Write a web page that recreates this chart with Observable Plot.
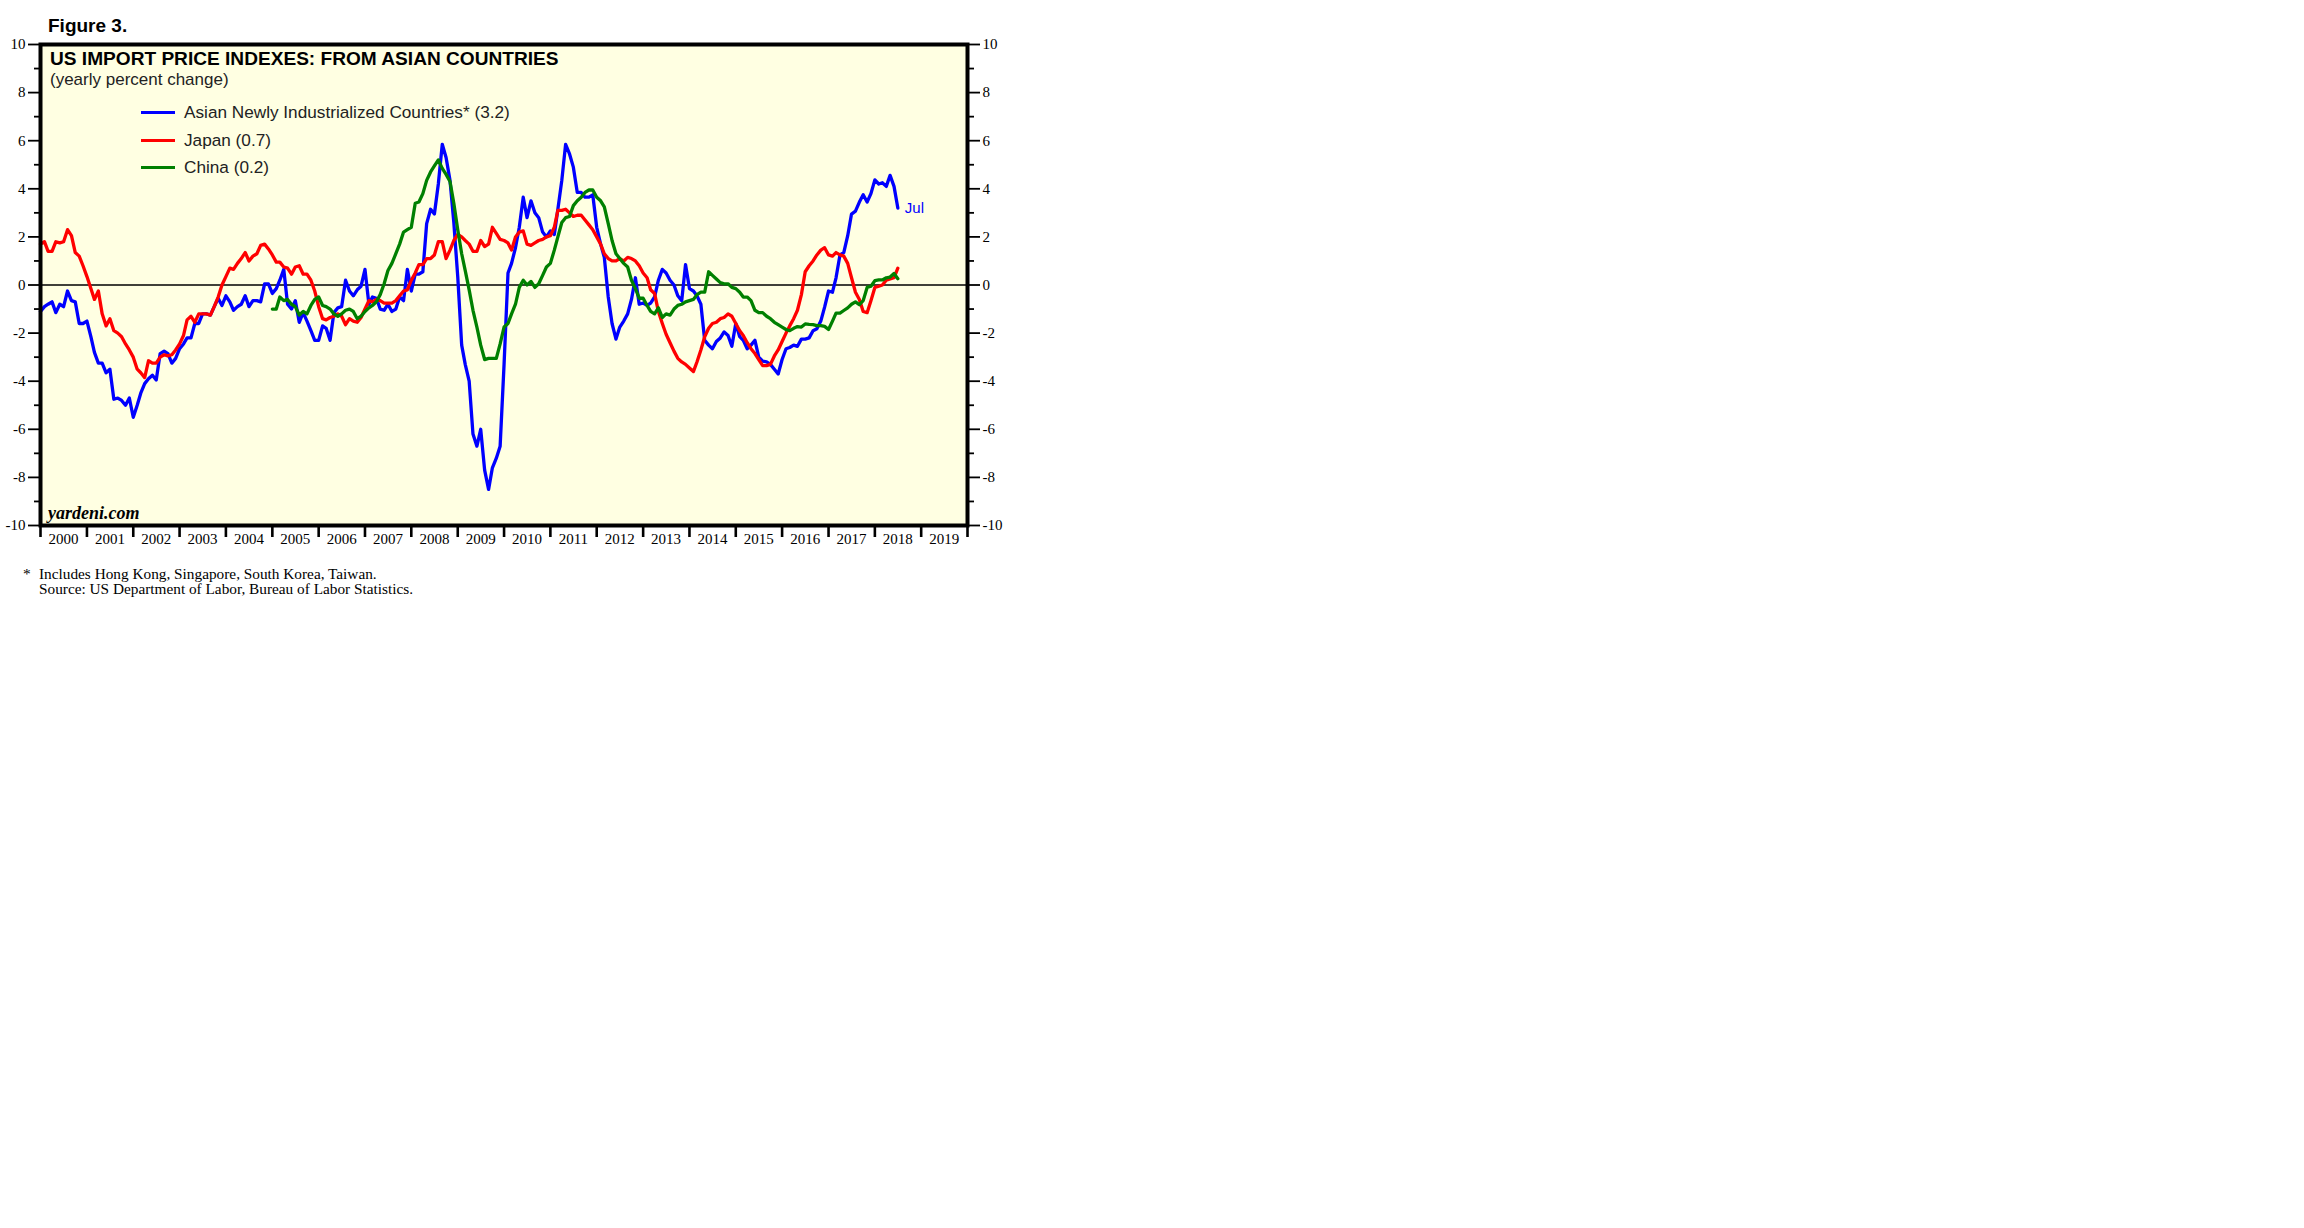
<!DOCTYPE html>
<html><head><meta charset="utf-8">
<script src="https://cdn.jsdelivr.net/npm/d3@7"></script>
<script src="https://cdn.jsdelivr.net/npm/@observablehq/plot@0.6"></script>
<style>
body{margin:0;background:#fff;}
#wrap{position:relative;width:2304px;height:1228px;overflow:hidden;}
.abs{position:absolute;white-space:nowrap;line-height:1;}
.sans{font-family:"Liberation Sans",Arial,sans-serif;}
.serif{font-family:"Liberation Serif","Times New Roman",serif;}
.sw{position:absolute;height:0;border-top:3.5px solid;width:34px;}
</style></head><body><div id="wrap"></div>
<script>
// ---- data (yearly % change, monthly, Jan 2000 .. Jul 2018) ----
const firstYear = 2000;
const nics = [
 -1.1,-0.9,-0.8,-0.7,-1.15,-0.8,-0.9,-0.25,-0.65,-0.7,-1.6,-1.6,
 -1.5,-2.15,-2.8,-3.25,-3.25,-3.65,-3.5,-4.75,-4.7,-4.8,-5.0,-4.7,
 -5.5,-5.0,-4.5,-4.1,-3.9,-3.75,-3.95,-2.85,-2.75,-2.85,-3.25,-3.05,
 -2.65,-2.45,-2.2,-2.2,-1.6,-1.6,-1.2,-1.2,-1.25,-0.9,-0.55,-0.85,
 -0.45,-0.7,-1.05,-0.9,-0.8,-0.45,-0.9,-0.65,-0.65,-0.7,0.05,0.05,
 -0.35,-0.15,0.2,0.65,-0.8,-1.0,-0.65,-1.55,-1.15,-1.5,-1.9,-2.3,
 -2.3,-1.7,-1.8,-2.3,-1.15,-0.95,-0.9,0.2,-0.25,-0.45,-0.2,-0.05,
 0.65,-0.8,-0.5,-0.55,-1.0,-1.05,-0.8,-1.1,-1.0,-0.5,-0.65,0.65,
 -0.25,0.45,0.45,0.55,2.55,3.15,2.95,4.2,5.85,5.3,4.35,2.6,
 0.35,-2.5,-3.3,-4.0,-6.2,-6.7,-6.0,-7.7,-8.5,-7.6,-7.2,-6.7,
 -3.3,0.5,0.9,1.55,2.4,3.65,2.8,3.5,3.0,2.8,2.2,2.0,
 2.25,2.1,3.15,4.35,5.85,5.45,4.9,3.85,3.85,3.65,3.65,3.75,
 2.4,1.7,1.15,-0.5,-1.6,-2.25,-1.75,-1.5,-1.2,-0.6,0.3,-0.8,
 -0.75,-0.85,-0.75,-0.5,0.2,0.65,0.5,0.2,0.0,-0.45,-0.65,0.85,
 -0.15,-0.25,-0.45,-0.8,-2.3,-2.5,-2.65,-2.35,-2.2,-1.95,-2.1,-2.55,
 -1.6,-2.15,-2.3,-2.65,-2.5,-2.3,-3.0,-3.17,-3.2,-3.3,-3.5,-3.7,
 -3.1,-2.65,-2.6,-2.5,-2.55,-2.25,-2.25,-2.2,-1.9,-1.82,-1.5,-0.92,
 -0.25,-0.3,0.3,1.25,1.35,2.05,2.95,3.07,3.45,3.75,3.45,3.8,
 4.37,4.2,4.25,4.1,4.56,4.1,3.2
];
const japan = [
 1.7,1.8,1.4,1.4,1.8,1.75,1.8,2.3,2.05,1.35,1.2,0.8,
 0.35,-0.15,-0.6,-0.25,-1.2,-1.7,-1.4,-1.9,-2.0,-2.15,-2.45,-2.7,
 -3.0,-3.5,-3.65,-3.85,-3.15,-3.25,-3.25,-3.0,-2.9,-2.95,-2.9,-2.7,
 -2.45,-2.1,-1.45,-1.3,-1.55,-1.2,-1.2,-1.2,-1.25,-0.9,-0.5,0.0,
 0.35,0.7,0.65,0.9,1.1,1.35,1.0,1.2,1.3,1.65,1.7,1.5,
 1.25,0.95,0.95,0.75,0.7,0.45,0.75,0.8,0.45,0.45,0.2,-0.25,
 -0.9,-1.4,-1.45,-1.35,-1.3,-1.2,-1.3,-1.65,-1.4,-1.5,-1.55,-1.35,
 -1.0,-0.65,-0.7,-0.6,-0.65,-0.75,-0.75,-0.75,-0.65,-0.45,-0.25,-0.2,
 0.2,0.5,0.85,0.85,1.1,1.1,1.25,1.8,1.8,1.1,1.45,1.85,
 2.1,2.0,1.85,1.7,1.4,1.4,1.85,1.6,1.7,2.4,2.15,1.9,
 1.85,1.75,1.45,2.0,2.2,2.25,1.7,1.65,1.75,1.85,1.9,2.0,
 2.05,2.4,3.1,3.1,3.15,3.0,2.85,2.9,2.9,2.7,2.5,2.3,
 2.0,1.7,1.3,1.1,1.0,1.0,1.1,1.0,1.15,1.1,1.0,0.8,
 0.5,0.3,-0.2,-0.35,-1.1,-1.6,-2.05,-2.4,-2.75,-3.05,-3.2,-3.3,
 -3.45,-3.6,-3.2,-2.7,-2.15,-1.8,-1.6,-1.55,-1.4,-1.35,-1.2,-1.3,
 -1.6,-1.9,-2.1,-2.4,-2.65,-2.85,-3.1,-3.35,-3.35,-3.3,-2.95,-2.7,
 -2.35,-2.0,-1.7,-1.4,-1.05,-0.4,0.55,0.8,1.0,1.25,1.45,1.55,
 1.25,1.2,1.35,1.25,1.2,0.9,0.3,-0.3,-0.6,-1.1,-1.15,-0.65,
 -0.1,-0.05,0.0,0.2,0.25,0.3,0.7
];
const chinaFirstMonth = 60; // Jan 2005
const china = [
 -1.0,-1.0,-0.5,-0.65,-0.6,-0.8,-0.9,-1.25,-1.1,-1.2,-0.85,-0.6,
 -0.5,-0.85,-0.9,-1.0,-1.2,-1.3,-1.2,-1.05,-1.0,-1.1,-1.4,-1.3,
 -1.1,-0.95,-0.85,-0.7,-0.4,0.05,0.6,0.9,1.3,1.7,2.2,2.3,
 2.4,3.4,3.45,3.8,4.35,4.7,4.95,5.2,4.85,4.6,4.3,3.4,
 2.3,1.3,0.6,-0.2,-1.05,-1.75,-2.5,-3.1,-3.05,-3.05,-3.05,-2.45,
 -1.75,-1.6,-1.2,-0.8,-0.1,0.2,0.0,0.15,-0.1,0.05,0.4,0.75,
 0.9,1.45,2.0,2.6,2.8,2.85,3.3,3.5,3.65,3.85,3.95,3.95,
 3.65,3.5,3.25,2.55,1.85,1.3,1.1,0.9,0.75,0.2,-0.15,-0.55,
 -0.55,-0.85,-1.1,-1.2,-0.95,-1.35,-1.2,-1.25,-1.0,-0.85,-0.8,-0.7,
 -0.65,-0.6,-0.4,-0.3,-0.3,0.55,0.4,0.25,0.1,0.05,0.05,-0.1,
 -0.15,-0.3,-0.5,-0.5,-0.65,-1.05,-1.15,-1.15,-1.3,-1.4,-1.55,-1.65,
 -1.75,-1.85,-1.9,-1.8,-1.73,-1.75,-1.62,-1.64,-1.65,-1.69,-1.69,-1.72,
 -1.85,-1.5,-1.17,-1.17,-1.06,-0.95,-0.8,-0.7,-0.82,-0.65,-0.1,-0.05,
 0.18,0.21,0.21,0.3,0.33,0.48,0.26
];
const seriesKeys = ["nics","japan","china"];
const seriesLabels = ["Asian Newly Industrialized Countries* (3.2)","Japan (0.7)","China (0.2)"];
const seriesColors = ["#0000ff","#ff0000","#008000"];
const lastLabel = "Jul";
const yearTicks = d3.range(2000, 2021);
const yearLabels = d3.range(2000, 2020);
const yMajor = d3.range(-10, 11, 2);
const yMinor = d3.range(-9, 10, 2);

// ---- build table ----
const monthDate = i => new Date(Date.UTC(firstYear, i, 1));
const rows = [];
nics.forEach((v,i)=>rows.push({s:"nics", date:monthDate(i), v}));
japan.forEach((v,i)=>rows.push({s:"japan", date:monthDate(i), v}));
china.forEach((v,i)=>rows.push({s:"china", date:monthDate(i+chinaFirstMonth), v}));
const lastNics = {date: monthDate(nics.length-1), v: nics[nics.length-1]};

const serif = '"Liberation Serif","Times New Roman",serif';
const chart = Plot.plot({
  width: 1010, height: 525,
  marginLeft: 40, marginRight: 43, marginTop: 14, marginBottom: 30,
  style: {fontFamily: serif, fontSize: "15px", color: "#000", background: "transparent", overflow: "visible"},
  x: {type: "utc", domain: [new Date(Date.UTC(2000,0,1)), new Date(Date.UTC(2020,0,1))], label: null},
  y: {domain: [-10, 10], label: null},
  color: {domain: seriesKeys, range: seriesColors},
  marks: [
    Plot.frame({fill: "#ffffe2", stroke: null}),
    Plot.ruleY([0], {stroke: "#000", strokeWidth: 1.3}),
    Plot.line(rows, {x: "date", y: "v", z: "s", stroke: "s", strokeWidth: 3.3}),
    Plot.text([lastNics], {x: "date", y: "v", text: () => lastLabel, dx: 7, textAnchor: "start", fill: "#0000ff", fontFamily: '"Liberation Sans",Arial,sans-serif', fontSize: 15}),
    Plot.frame({stroke: "#000", strokeWidth: 4}),
    Plot.axisY(yMajor, {anchor: "left", tickSize: 12, tickPadding: 3, strokeWidth: 1.8, tickFormat: d => String(d), label: null, fontSize: 15}),
    Plot.axisY(yMinor, {anchor: "left", tickSize: 6, strokeWidth: 1.8, tickFormat: () => "", label: null}),
    Plot.axisY(yMajor, {anchor: "right", tickSize: 12, tickPadding: 3, strokeWidth: 1.8, tickFormat: d => String(d), label: null, fontSize: 15}),
    Plot.axisY(yMinor, {anchor: "right", tickSize: 6, strokeWidth: 1.8, tickFormat: () => "", label: null}),
    Plot.axisX(yearTicks.map(y => new Date(Date.UTC(y,0,1))), {anchor: "bottom", tickSize: 12, strokeWidth: 2.6, tickFormat: () => "", label: null}),
    Plot.axisX(yearLabels.map(y => new Date(Date.UTC(y,6,1))), {anchor: "bottom", tickSize: 0, tickPadding: 8, tickFormat: d => String(d.getUTCFullYear()), label: null, fontSize: 15})
  ]
});
const wrap = document.getElementById("wrap");
chart.style.position = "absolute";
chart.style.left = "0px";
chart.style.top = "30px";
wrap.appendChild(chart);

function addText(txt, cls, left, baseline, size, extra) {
  const d = document.createElement("div");
  d.className = "abs " + cls;
  d.textContent = txt;
  const k = cls.includes("serif") ? 0.8375 : 0.846;
  d.style.left = left + "px";
  d.style.top = (baseline - k*size) + "px";
  d.style.fontSize = size + "px";
  if (extra) Object.assign(d.style, extra);
  wrap.appendChild(d);
  return d;
}
addText("Figure 3.", "sans", 48, 32, 19, {fontWeight: "700"});
addText("US IMPORT PRICE INDEXES: FROM ASIAN COUNTRIES", "sans", 50, 65, 19.1, {fontWeight: "700"});
addText("(yearly percent change)", "sans", 50, 85, 17, {color: "#222"});
seriesLabels.forEach((lab, i) => {
  const cy = 113 + i*27.5;
  const sw = document.createElement("div");
  sw.className = "sw";
  sw.style.left = "141px";
  sw.style.top = (cy - 1.75) + "px";
  sw.style.borderTopColor = seriesColors[i];
  wrap.appendChild(sw);
  addText(lab, "sans", 184, cy + 6, 17.2, {color: "#222"});
});
addText("yardeni.com", "serif", 48, 519, 18, {fontWeight: "700", fontStyle: "italic"});
addText("*", "serif", 23, 579, 15.3);
addText("Includes Hong Kong, Singapore, South Korea, Taiwan.", "serif", 39, 579, 15.3);
addText("Source: US Department of Labor, Bureau of Labor Statistics.", "serif", 39, 594, 15.3);
</script></body></html>
